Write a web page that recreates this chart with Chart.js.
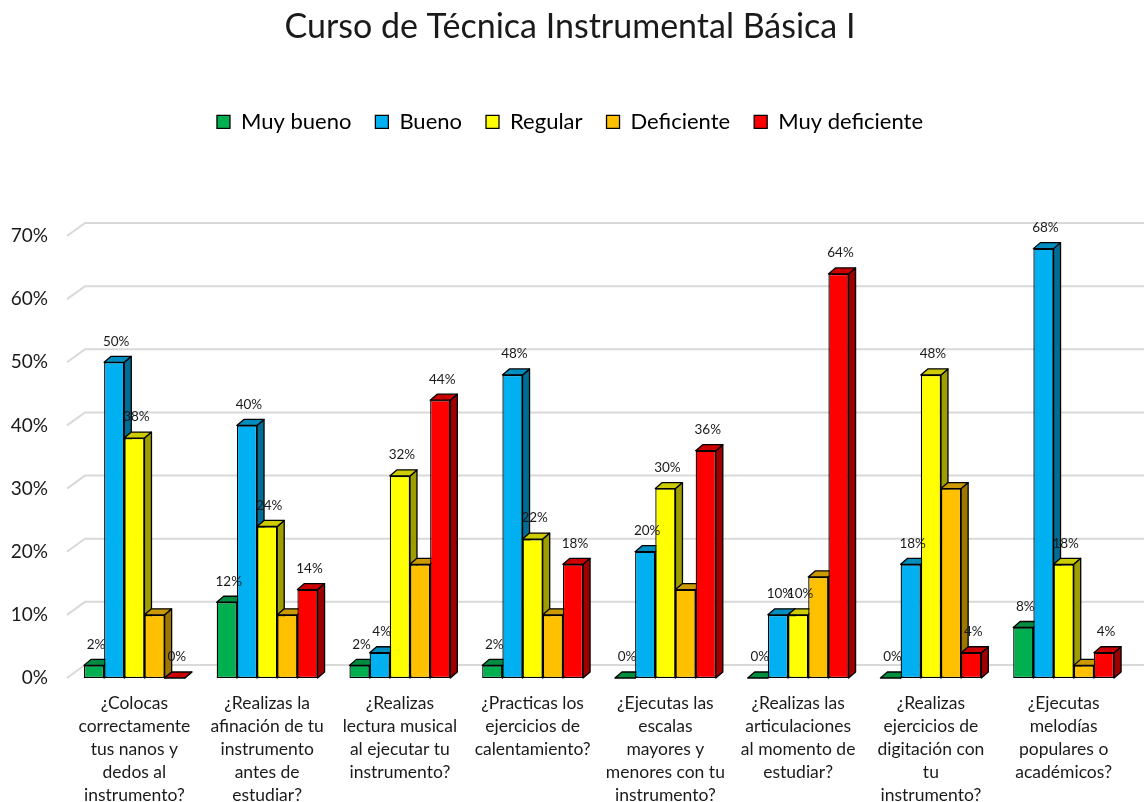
<!DOCTYPE html>
<html>
<head>
<meta charset="utf-8">
<title>Curso de Técnica Instrumental Básica I</title>
<script src="https://cdn.jsdelivr.net/npm/chart.js@4.4.1/dist/chart.umd.min.js"></script>
<style>
  html, body { margin: 0; padding: 0; background: #fff; }
  #wrap { width: 1144px; height: 802px; }
</style>
</head>
<body>
<div id="wrap"><canvas id="chart"></canvas></div>
<script>
// categories (multi-line x labels)
const questions = [
  ["¿Colocas", "correctamente", "tus nanos y", "dedos al", "instrumento?"],
  ["¿Realizas la", "afinación de tu", "instrumento", "antes de", "estudiar?"],
  ["¿Realizas", "lectura musical", "al ejecutar tu", "instrumento?"],
  ["¿Practicas los", "ejercicios de", "calentamiento?"],
  ["¿Ejecutas las", "escalas", "mayores y", "menores con tu", "instrumento?"],
  ["¿Realizas las", "articulaciones", "al momento de", "estudiar?"],
  ["¿Realizas", "ejercicios de", "digitación con", "tu", "instrumento?"],
  ["¿Ejecutas", "melodías", "populares o", "académicos?"],
];

// values in %
const muyBueno      = [2, 12, 2, 2, 0, 0, 0, 8];
const bueno         = [50, 40, 4, 48, 20, 10, 18, 68];
const regular       = [38, 24, 32, 22, 30, 10, 48, 18];
const deficiente    = [10, 10, 18, 10, 14, 16, 30, 2];
const muyDeficiente = [0, 14, 44, 18, 36, 64, 4, 4];

const yTicks = [0, 10, 20, 30, 40, 50, 60, 70];

const FONT = "Lato, 'Open Sans', sans-serif";
const DEPTH_X = 7, DEPTH_Y = 6;

function shade(hex, f) {
  const n = parseInt(hex.slice(1), 16);
  const r = Math.round(((n >> 16) & 255) * f);
  const g = Math.round(((n >> 8) & 255) * f);
  const b = Math.round((n & 255) * f);
  return `rgb(${r},${g},${b})`;
}

function ds(label, data, color, showLabels) {
  return {
    label, data,
    backgroundColor: color,
    borderColor: "#000",
    borderWidth: 1.3,
    borderSkipped: false,
    showLabels,
  };
}

// back wall gridlines + 3D sides/tops of bars (fronts are drawn by Chart.js)
const bars3d = {
  id: "bars3d",
  beforeDatasetsDraw(chart) {
    const { ctx, chartArea: a, scales: { y } } = chart;
    ctx.save();
    ctx.strokeStyle = "#d9d9d9";
    ctx.lineWidth = 2;
    yTicks.forEach(v => {
      const py = y.getPixelForValue(v);
      ctx.beginPath();
      ctx.moveTo(a.left - 1, py);
      ctx.lineTo(a.left + 17, py - 13);
      ctx.lineTo(a.right + 14, py - 13);
      ctx.stroke();
    });

    ctx.lineWidth = 1.3;
    ctx.strokeStyle = "#000";
    ctx.lineJoin = "round";
    const n = chart.data.labels.length;
    for (let i = 0; i < n; i++) {
      chart.data.datasets.forEach((d, di) => {
        const bar = chart.getDatasetMeta(di).data[i];
        const l = bar.x - bar.width / 2, r = bar.x + bar.width / 2;
        const t = bar.y, b = bar.base;
        // side
        ctx.fillStyle = shade(d.backgroundColor, 0.62);
        ctx.beginPath();
        ctx.moveTo(r, b);
        ctx.lineTo(r + DEPTH_X, b - DEPTH_Y);
        ctx.lineTo(r + DEPTH_X, t - DEPTH_Y);
        ctx.lineTo(r, t);
        ctx.closePath();
        ctx.fill(); ctx.stroke();
        // top
        ctx.fillStyle = shade(d.backgroundColor, 0.8);
        ctx.beginPath();
        ctx.moveTo(l, t);
        ctx.lineTo(l + DEPTH_X, t - DEPTH_Y);
        ctx.lineTo(r + DEPTH_X, t - DEPTH_Y);
        ctx.lineTo(r, t);
        ctx.closePath();
        ctx.fill(); ctx.stroke();
      });
    }
    ctx.restore();
  },
  afterDatasetsDraw(chart) {
    const { ctx } = chart;
    ctx.save();
    ctx.font = `13.5px ${FONT}`;
    ctx.fillStyle = "#1a1a1a";
    ctx.textAlign = "center";
    ctx.textBaseline = "middle";
    chart.data.datasets.forEach((d, di) => {
      if (!d.showLabels) return;
      chart.getDatasetMeta(di).data.forEach((bar, i) => {
        ctx.fillText(d.data[i] + "%", bar.x + 2, bar.y - 21);
      });
    });
    ctx.restore();
  },
};

new Chart(document.getElementById("chart"), {
  type: "bar",
  data: {
    labels: questions,
    datasets: [
      ds("Muy bueno", muyBueno, "#00b050", true),
      ds("Bueno", bueno, "#00b0f0", true),
      ds("Regular", regular, "#ffff00", true),
      ds("Deficiente", deficiente, "#ffc000", false),
      ds("Muy deficiente", muyDeficiente, "#ff0000", true),
    ],
  },
  options: {
    responsive: true, maintainAspectRatio: false,
    animation: false,
    devicePixelRatio: 1,
    layout: { padding: { left: 10, right: 14, top: 0, bottom: 0 } },
    datasets: { bar: { categoryPercentage: 0.76, barPercentage: 1 } },
    plugins: {
      title: {
        display: true,
        text: "Curso de Técnica Instrumental Básica I",
        color: "#1a1a1a",
        font: { family: FONT, size: 34, weight: "normal" },
        padding: { top: 7, bottom: 39 },
      },
      subtitle: {
        display: true, text: "", weight: 500,
        font: { size: 1 },
        padding: { top: 0, bottom: 92 },
      },
      legend: {
        position: "top",
        labels: {
          color: "#1a1a1a",
          font: { family: FONT, size: 22 },
          boxWidth: 13, boxHeight: 13,
          padding: 24,
          generateLabels(chart) {
            return chart.data.datasets.map((d, i) => ({
              text: d.label, fillStyle: d.backgroundColor,
              strokeStyle: "#000", lineWidth: 1.3, datasetIndex: i,
            }));
          },
        },
      },
      tooltip: { enabled: false },
    },
    scales: {
      x: {
        grid: { display: false, drawTicks: false }, border: { display: false },
        ticks: {
          color: "#1a1a1a", maxRotation: 0, autoSkip: false, padding: 14,
          font: { family: FONT, size: 17.5, lineHeight: 1.314 },
        },
        afterFit(s) { s.height = 124; },
      },
      y: {
        min: 0, max: 70,
        grid: { display: false, drawTicks: false }, border: { display: false },
        afterBuildTicks(s) { s.ticks = yTicks.map(v => ({ value: v })); },
        ticks: {
          color: "#1a1a1a", padding: 20,
          font: { family: FONT, size: 19 },
          callback: v => v + "%",
        },
        afterFit(s) { s.width = 58; },
      },
    },
  },
  plugins: [bars3d],
});
</script>
</body>
</html>
